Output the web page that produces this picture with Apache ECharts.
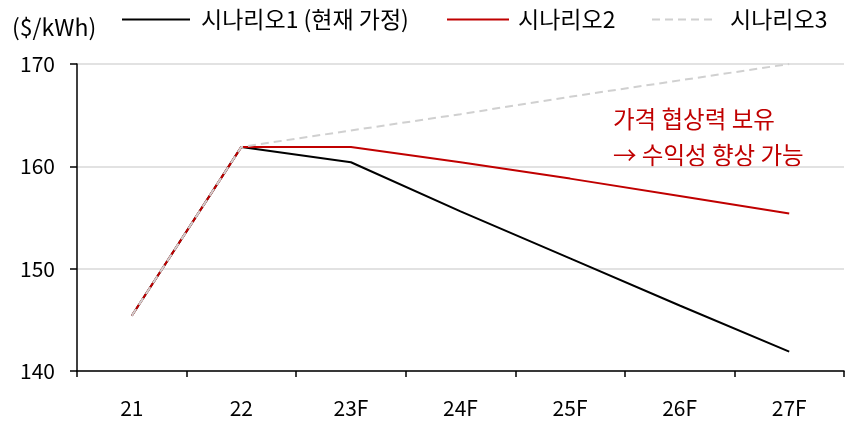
<!DOCTYPE html>
<html>
<head>
<meta charset="utf-8">
<script src="https://cdn.jsdelivr.net/npm/echarts@6/dist/echarts.min.js"></script>
<style>
html,body{margin:0;padding:0;background:#fff;}
#chart{width:845px;height:424px;}
</style>
</head>
<body>
<div id="chart"></div>
<script>
const categories = ['21', '22', '23F', '24F', '25F', '26F', '27F'];
const seriesNames = ['시나리오1 (현재 가정)', '시나리오2', '시나리오3'];
const scenario1 = [145.4, 161.9, 160.4, 155.6, 151.0, 146.4, 141.9];
const scenario2 = [145.4, 161.9, 161.9, 160.4, 158.8, 157.1, 155.4];
const scenario3 = [145.4, 161.9, 163.5, 165.1, 166.8, 168.4, 170.0];
const yTicks = { min: 140, max: 170, interval: 10 };
const unitLabel = '($/kWh)';
const noteLines = ['가격 협상력 보유', '→ 수익성 향상 가능'];

const FONT = '"Noto Sans CJK KR", "Noto Sans", sans-serif';
const legendLayout = [
  { left: 121, itemWidth: 68, pad: 6 },
  { left: 446, itemWidth: 62, pad: 4 },
  { left: 651, itemWidth: 65, pad: 8 }
];
const chart = echarts.init(document.getElementById('chart'));
chart.setOption({
  animation: false,
  textStyle: { fontFamily: FONT },
  grid: { left: 77, right: 1, top: 64, bottom: 53, containLabel: false },
  legend: seriesNames.map((n, i) => ({
    left: legendLayout[i].left, top: 8, padding: 0,
    itemWidth: legendLayout[i].itemWidth, itemHeight: 14, itemGap: 0,
    itemStyle: { opacity: 0 },
    textStyle: { fontSize: 23, color: '#000', fontFamily: FONT, padding: [0, 0, 0, legendLayout[i].pad] },
    data: [n]
  })),
  graphic: [
    { type: 'text', x: 12, y: 27, style: { text: unitLabel, fontSize: 23, fill: '#000', fontFamily: FONT, verticalAlign: 'middle' } },
    { type: 'text', x: 613, y: 119, style: { text: noteLines[0], fontSize: 23.5, fill: '#c00000', fontFamily: FONT, verticalAlign: 'middle' } },
    { type: 'text', x: 613, y: 155, style: { text: noteLines[1], fontSize: 23.5, fill: '#c00000', fontFamily: FONT, verticalAlign: 'middle' } }
  ],
  xAxis: {
    type: 'category',
    data: categories,
    boundaryGap: true,
    axisLine: { lineStyle: { color: '#000', width: 1.5 } },
    axisTick: { show: true, length: 6, lineStyle: { color: '#000', width: 1.5 } },
    axisLabel: { color: '#000', fontSize: 21, margin: 27, fontFamily: FONT },
    splitLine: { show: false }
  },
  yAxis: {
    type: 'value',
    min: yTicks.min, max: yTicks.max, interval: yTicks.interval,
    axisLine: { show: true, lineStyle: { color: '#000', width: 1.5 } },
    axisTick: { show: true, length: 7, lineStyle: { color: '#000', width: 1.5 } },
    axisLabel: { color: '#000', fontSize: 21, margin: 22, fontFamily: FONT },
    splitLine: { show: true, lineStyle: { color: '#d9d9d9', width: 1.5 } }
  },
  series: [
    { name: seriesNames[0], type: 'line', data: scenario1, symbol: 'none',
      lineStyle: { color: '#000', width: 2 }, itemStyle: { color: '#000' } },
    { name: seriesNames[1], type: 'line', data: scenario2, symbol: 'none',
      lineStyle: { color: '#c00000', width: 2 }, itemStyle: { color: '#c00000' } },
    { name: seriesNames[2], type: 'line', data: scenario3, symbol: 'none',
      lineStyle: { color: '#d0d0d0', width: 2, type: [8, 5] }, itemStyle: { color: '#d0d0d0' } }
  ]
});
</script>
</body>
</html>
